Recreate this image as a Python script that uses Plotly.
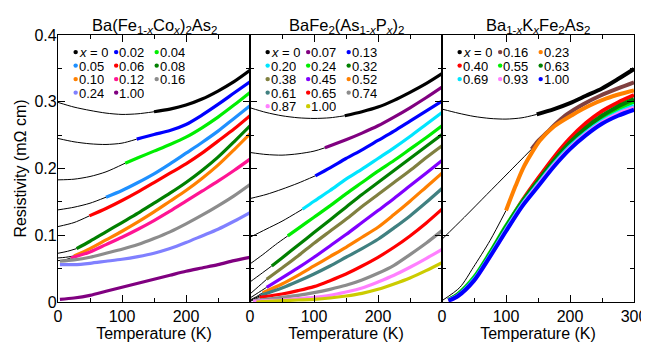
import plotly.graph_objects as go

FONT = "Liberation Sans, Arial, Helvetica, sans-serif"

# ---------------- Panel 1: Ba(Fe1-xCox)2As2 ----------------
co_labels = ["0", "0.02", "0.04", "0.05", "0.06", "0.08", "0.10", "0.12", "0.16", "0.24", "1.00"]
co_colors = ["#000000", "#0000ff", "#00ee00", "#1e90ff", "#ff0000", "#008000", "#ff8000",
             "#ff1493", "#8c8c8c", "#8080ff", "#800080"]
co_thin_T = [
    [0, 25, 50, 75, 100, 125, 150],
    [0, 25, 50, 75, 100, 123],
    [0, 25, 50, 75, 105],
    [0, 25, 50, 75],
    [0, 25, 49],
    [0, 15, 29],
    [0, 12, 25],
    [0, 10, 20],
    [], [], [],
]
co_thin_rho = [
    [0.299, 0.292, 0.287, 0.283, 0.281, 0.282, 0.285],
    [0.245, 0.240, 0.237, 0.236, 0.238, 0.244],
    [0.183, 0.184, 0.188, 0.195, 0.208],
    [0.138, 0.142, 0.148, 0.157],
    [0.113, 0.119, 0.129],
    [0.073, 0.076, 0.080],
    [0.066, 0.067, 0.069],
    [0.062, 0.063, 0.066],
    [], [], [],
]
co_T = [
    [150, 175, 200, 225, 250, 275, 300],
    [123, 150, 175, 200, 225, 250, 275, 300],
    [105, 125, 150, 175, 200, 225, 250, 275, 300],
    [75, 100, 125, 150, 175, 200, 225, 250, 275, 300],
    [49, 75, 100, 125, 150, 175, 200, 225, 250, 275, 300],
    [29, 50, 75, 100, 125, 150, 175, 200, 225, 250, 275, 300],
    [25, 50, 75, 100, 125, 150, 175, 200, 225, 250, 275, 300],
    [20, 50, 75, 100, 125, 150, 175, 200, 225, 250, 275, 300],
    [3, 25, 50, 75, 100, 125, 150, 175, 200, 225, 250, 275, 300],
    [3, 25, 50, 75, 100, 125, 150, 175, 200, 225, 250, 275, 300],
    [3, 25, 50, 75, 100, 125, 150, 175, 200, 225, 250, 275, 300],
]
co_rho = [
    [0.285, 0.289, 0.295, 0.304, 0.316, 0.330, 0.347],
    [0.244, 0.251, 0.257, 0.266, 0.280, 0.296, 0.313, 0.330],
    [0.208, 0.216, 0.226, 0.236, 0.247, 0.261, 0.277, 0.295, 0.314],
    [0.157, 0.167, 0.179, 0.192, 0.207, 0.223, 0.239, 0.256, 0.275, 0.294],
    [0.129, 0.140, 0.152, 0.165, 0.179, 0.193, 0.207, 0.223, 0.241, 0.259, 0.279],
    [0.080, 0.091, 0.105, 0.119, 0.133, 0.148, 0.163, 0.179, 0.197, 0.217, 0.240, 0.264],
    [0.069, 0.080, 0.093, 0.106, 0.120, 0.135, 0.151, 0.167, 0.185, 0.205, 0.228, 0.252],
    [0.066, 0.075, 0.086, 0.097, 0.109, 0.122, 0.136, 0.151, 0.166, 0.181, 0.197, 0.214],
    [0.061, 0.063, 0.067, 0.073, 0.079, 0.086, 0.095, 0.105, 0.117, 0.130, 0.144, 0.159, 0.176],
    [0.056, 0.056, 0.058, 0.061, 0.064, 0.068, 0.073, 0.080, 0.089, 0.099, 0.109, 0.121, 0.134],
    [0.004, 0.006, 0.010, 0.016, 0.022, 0.028, 0.034, 0.040, 0.046, 0.051, 0.056, 0.062, 0.067],
]

# ---------------- Panel 2: BaFe2(As1-xPx)2 ----------------
p_labels = ["0", "0.07", "0.13", "0.20", "0.24", "0.32", "0.38", "0.45", "0.52", "0.61",
            "0.65", "0.74", "0.87", "1.00"]
p_colors = ["#000000", "#800080", "#0000ff", "#00e5ff", "#00ee00", "#008000", "#808040",
            "#8000ff", "#ff8000", "#408080", "#ff0000", "#8c8c8c", "#ff80ff", "#cccc00"]
p_thin_T = [
    [0, 25, 50, 75, 100, 125, 148],
    [0, 25, 50, 75, 100, 117],
    [0, 25, 50, 75, 102],
    [0, 25, 50, 82],
    [0, 20, 40, 59],
    [0, 17, 34],
    [0, 13, 26],
    [0, 13, 26],
    [0, 10, 20],
    [0, 17],
    [0, 15],
    [], [], [],
]
p_thin_rho = [
    [0.291, 0.284, 0.279, 0.276, 0.275, 0.276, 0.279],
    [0.224, 0.221, 0.220, 0.222, 0.226, 0.231],
    [0.155, 0.161, 0.169, 0.178, 0.189],
    [0.097, 0.109, 0.121, 0.139],
    [0.057, 0.071, 0.086, 0.099],
    [0.030, 0.042, 0.054],
    [0.012, 0.023, 0.034],
    [0.006, 0.014, 0.022],
    [0.003, 0.008, 0.014],
    [0.002, 0.010],
    [0.001, 0.007],
    [], [], [],
]
p_T = [
    [148, 175, 200, 225, 250, 275, 300],
    [117, 150, 175, 200, 225, 250, 275, 300],
    [102, 125, 150, 175, 200, 225, 250, 275, 300],
    [82, 100, 125, 150, 175, 200, 225, 250, 275, 300],
    [59, 75, 100, 125, 150, 175, 200, 225, 250, 275, 300],
    [34, 50, 75, 100, 125, 150, 175, 200, 225, 250, 275, 300],
    [26, 50, 75, 100, 125, 150, 175, 200, 225, 250, 275, 300],
    [26, 50, 75, 100, 125, 150, 175, 200, 225, 250, 275, 300],
    [20, 50, 75, 100, 125, 150, 175, 200, 225, 250, 275, 300],
    [17, 50, 75, 100, 125, 150, 175, 200, 225, 250, 275, 300],
    [15, 50, 75, 100, 125, 150, 175, 200, 225, 250, 275, 300],
    [5, 25, 50, 75, 100, 125, 150, 175, 200, 225, 250, 275, 300],
    [5, 25, 50, 75, 100, 125, 150, 175, 200, 225, 250, 275, 300],
    [10, 25, 50, 75, 100, 125, 150, 175, 200, 225, 250, 275, 300],
]
p_rho = [
    [0.279, 0.285, 0.292, 0.302, 0.314, 0.327, 0.342],
    [0.231, 0.243, 0.253, 0.264, 0.277, 0.291, 0.306, 0.322],
    [0.189, 0.201, 0.215, 0.228, 0.242, 0.256, 0.271, 0.286, 0.301],
    [0.139, 0.151, 0.167, 0.184, 0.199, 0.215, 0.231, 0.248, 0.266, 0.284],
    [0.099, 0.110, 0.127, 0.144, 0.162, 0.179, 0.196, 0.212, 0.229, 0.246, 0.264],
    [0.054, 0.066, 0.085, 0.104, 0.123, 0.142, 0.161, 0.179, 0.197, 0.215, 0.233, 0.251],
    [0.034, 0.051, 0.069, 0.088, 0.106, 0.124, 0.143, 0.161, 0.179, 0.197, 0.216, 0.234],
    [0.022, 0.036, 0.051, 0.067, 0.084, 0.101, 0.119, 0.137, 0.155, 0.174, 0.193, 0.212],
    [0.014, 0.027, 0.040, 0.054, 0.068, 0.082, 0.097, 0.112, 0.131, 0.151, 0.172, 0.193],
    [0.010, 0.021, 0.031, 0.042, 0.054, 0.067, 0.080, 0.094, 0.111, 0.129, 0.149, 0.170],
    [0.007, 0.012, 0.017, 0.023, 0.032, 0.042, 0.054, 0.067, 0.082, 0.099, 0.118, 0.139],
    [0.002, 0.004, 0.007, 0.010, 0.014, 0.019, 0.025, 0.033, 0.043, 0.055, 0.071, 0.088, 0.107],
    [0.001, 0.002, 0.003, 0.005, 0.007, 0.010, 0.015, 0.021, 0.030, 0.040, 0.052, 0.065, 0.079],
    [0.000, 0.001, 0.002, 0.003, 0.004, 0.006, 0.009, 0.013, 0.019, 0.027, 0.036, 0.047, 0.059],
]

# ---------------- Panel 3: Ba1-xKxFe2As2 ----------------
k_labels = ["0", "0.16", "0.23", "0.40", "0.55", "0.63", "0.69", "0.93", "1.00"]
k_colors = ["#000000", "#804040", "#ff8000", "#ff0000", "#00ee00", "#008000", "#00e5ff",
            "#ff80ff", "#0000ff"]
k_thin_T = [
    [0, 25, 50, 75, 100, 125, 148],
    [0, 35, 70, 105, 140],
    [0, 28, 49, 75, 100],
    [], [], [], [], [], [],
]
k_thin_rho = [
    [0.289, 0.283, 0.278, 0.275, 0.274, 0.276, 0.281],
    [0.094, 0.127, 0.161, 0.195, 0.229],
    [0.002, 0.022, 0.052, 0.092, 0.137],
    [], [], [], [], [], [],
]
k_T = [
    [148, 175, 200, 225, 250, 275, 300],
    [140, 150, 164, 180, 195, 220, 247, 275, 300],
    [100, 115, 127, 140, 153, 175, 205, 230, 257, 280, 300],
    [10, 25, 50, 75, 100, 125, 150, 175, 200, 225, 250, 275, 300],
    [10, 25, 50, 75, 100, 125, 150, 175, 200, 225, 250, 275, 300],
    [10, 25, 50, 75, 100, 125, 150, 175, 200, 225, 250, 275, 300],
    [10, 25, 50, 75, 100, 125, 150, 175, 200, 225, 250, 275, 300],
    [10, 25, 50, 75, 100, 125, 150, 175, 200, 225, 250, 275, 300],
    [10, 25, 50, 75, 100, 125, 150, 175, 200, 225, 250, 275, 300],
]
k_rho = [
    [0.281, 0.289, 0.298, 0.309, 0.320, 0.334, 0.349],
    [0.229, 0.241, 0.254, 0.269, 0.281, 0.296, 0.309, 0.320, 0.329],
    [0.137, 0.174, 0.201, 0.223, 0.242, 0.263, 0.281, 0.294, 0.305, 0.312, 0.317],
    [0.003, 0.010, 0.034, 0.071, 0.112, 0.151, 0.185, 0.217, 0.245, 0.268, 0.286, 0.299, 0.310],
    [0.003, 0.012, 0.037, 0.074, 0.114, 0.150, 0.181, 0.211, 0.237, 0.258, 0.276, 0.289, 0.300],
    [0.003, 0.011, 0.035, 0.072, 0.112, 0.149, 0.181, 0.212, 0.239, 0.261, 0.279, 0.293, 0.304],
    [0.003, 0.010, 0.034, 0.070, 0.109, 0.146, 0.177, 0.207, 0.233, 0.254, 0.271, 0.284, 0.294],
    [0.002, 0.009, 0.032, 0.068, 0.107, 0.144, 0.175, 0.205, 0.231, 0.252, 0.269, 0.282, 0.291],
    [0.002, 0.009, 0.032, 0.068, 0.106, 0.143, 0.173, 0.203, 0.229, 0.250, 0.267, 0.279, 0.288],
]

titles = ["Ba(Fe<sub>1-<i>x</i></sub>Co<sub><i>x</i></sub>)<sub>2</sub>As<sub>2</sub>",
          "BaFe<sub>2</sub>(As<sub>1-<i>x</i></sub>P<sub><i>x</i></sub>)<sub>2</sub>",
          "Ba<sub>1-<i>x</i></sub>K<sub><i>x</i></sub>Fe<sub>2</sub>As<sub>2</sub>"]

panels = [
    (co_labels, co_colors, co_thin_T, co_thin_rho, co_T, co_rho),
    (p_labels, p_colors, p_thin_T, p_thin_rho, p_T, p_rho),
    (k_labels, k_colors, k_thin_T, k_thin_rho, k_T, k_rho),
]

fig = go.Figure()
shapes = []
annotations = []

for i, (labels, colors, thT, thR, T, R) in enumerate(panels):
    xa = "x" if i == 0 else f"x{i+1}"
    ya = "y" if i == 0 else f"y{i+1}"
    width = 4.0 if i == 2 else 3.2
    for t, r in zip(thT, thR):
        if t:
            fig.add_trace(go.Scatter(x=t, y=r, mode="lines", xaxis=xa, yaxis=ya,
                                     line=dict(color="black", width=1, shape="spline", smoothing=0.8),
                                     hoverinfo="skip", showlegend=False))
    for t, r, c in zip(T, R, colors):
        fig.add_trace(go.Scatter(x=t, y=r, mode="lines", xaxis=xa, yaxis=ya,
                                 line=dict(color=c, width=width, shape="spline", smoothing=0.8),
                                 hoverinfo="skip", showlegend=False))
    # legend (3 columns, row-major)
    for j, (lab, c) in enumerate(zip(labels, colors)):
        col, row = j % 3, j // 3
        fx = 0.092 + col * 0.211
        fy = 0.936 - row * 0.0506
        shapes.append(dict(type="circle", xref=f"{xa} domain", yref=f"{ya} domain",
                           xsizemode="pixel", ysizemode="pixel", xanchor=fx, yanchor=fy,
                           x0=-2.2, x1=2.2, y0=-2.2, y1=2.2,
                           fillcolor=c, line=dict(width=0)))
        text = "<i>x</i> = " + lab if j == 0 else lab
        annotations.append(dict(xref=f"{xa} domain", yref=f"{ya} domain", x=fx, y=fy,
                                xanchor="left", yanchor="middle", xshift=3, showarrow=False,
                                height=12, valign="middle", borderpad=0, borderwidth=0,
                                text=text, font=dict(family=FONT, size=13, color="black")))
    annotations.append(dict(xref=f"{xa} domain", yref=f"{ya} domain", x=0.5, y=1,
                            xanchor="center", yanchor="bottom", yshift=-3, showarrow=False,
                            text=titles[i], font=dict(family=FONT, size=16.5, color="black")))

def xaxis_cfg(i):
    ya = "y" if i == 0 else f"y{i+1}"
    return dict(domain=[i / 3, (i + 1) / 3], anchor=ya, range=[0, 300], automargin=False,
                tickmode="array", tickvals=[0, 100, 200, 300],
                ticktext=["0", "100", "200", "300" if i == 2 else " "],
                ticks="inside", ticklen=7, tickwidth=1, tickcolor="black",
                minor=dict(tickmode="array", tickvals=[50, 150, 250], ticks="inside",
                           ticklen=4, tickwidth=1, tickcolor="black"),
                mirror="allticks", showline=True, linecolor="black", linewidth=1.2,
                showgrid=False, zeroline=False,
                tickfont=dict(family=FONT, size=16, color="black"),
                title=dict(text="Temperature (K)", standoff=3,
                           font=dict(family=FONT, size=16, color="black")))

def yaxis_cfg(i):
    xa = "x" if i == 0 else f"x{i+1}"
    d = dict(anchor=xa, range=[0, 0.4], tickmode="linear", tick0=0, dtick=0.1, automargin=False,
             ticks="inside", ticklen=7, tickwidth=1, tickcolor="black",
             minor=dict(dtick=0.05, ticks="inside", ticklen=4, tickwidth=1, tickcolor="black"),
             mirror="allticks", showline=True, linecolor="black", linewidth=1.2,
             showgrid=False, zeroline=False, showticklabels=(i == 0), ticklabelstandoff=-3,
             tickfont=dict(family=FONT, size=16, color="black"))
    if i == 0:
        d["title"] = dict(text="Resistivity (mΩ cm)", standoff=3,
                          font=dict(family=FONT, size=16, color="black"))
    return d

# the page body adds an 8 px offset, so the figure is 8 px smaller than the window
fig.update_layout(
    width=641, height=337,
    margin=dict(l=50, r=15, t=27, b=43),
    paper_bgcolor="white", plot_bgcolor="white",
    showlegend=False,
    shapes=shapes, annotations=annotations,
    xaxis=xaxis_cfg(0), xaxis2=xaxis_cfg(1), xaxis3=xaxis_cfg(2),
    yaxis=yaxis_cfg(0), yaxis2=yaxis_cfg(1), yaxis3=yaxis_cfg(2),
)

fig.write_html("out.html")
